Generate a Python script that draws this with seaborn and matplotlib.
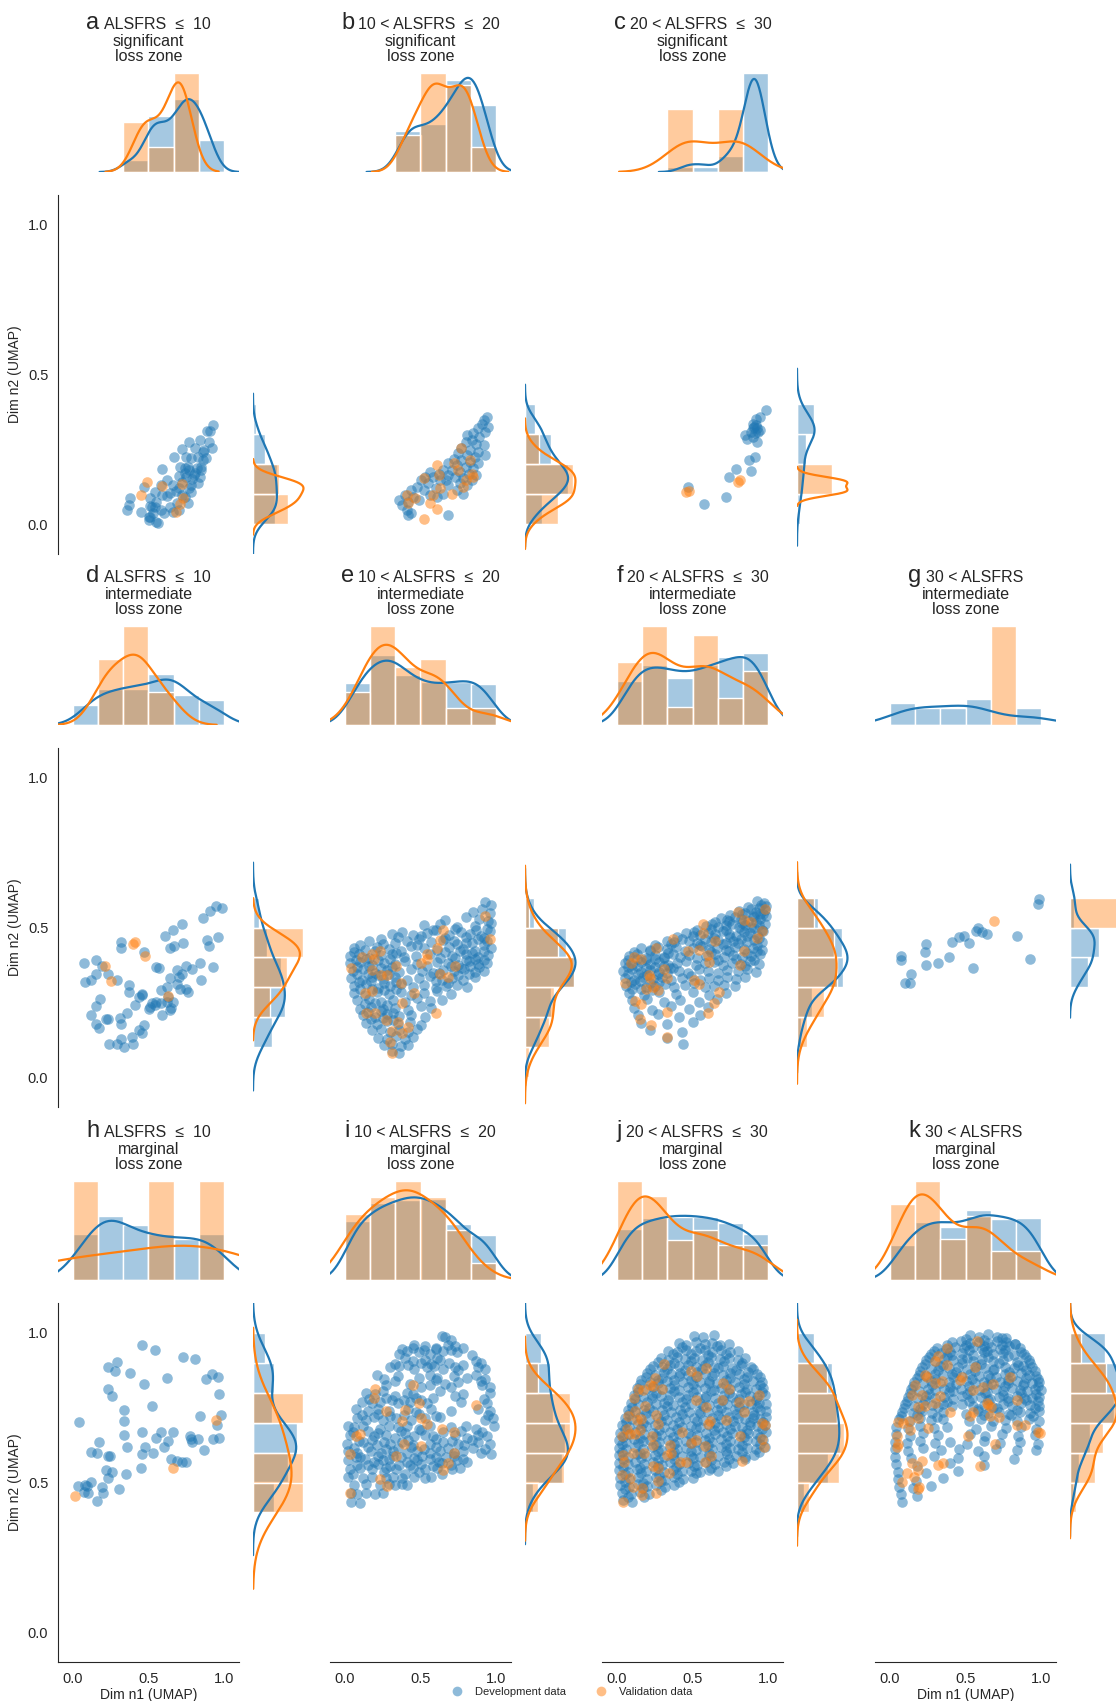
import matplotlib
matplotlib.use("Agg")
import matplotlib.pyplot as plt
import seaborn as sns
from matplotlib.lines import Line2D
from matplotlib.offsetbox import TextArea, HPacker, VPacker, AnchoredOffsetbox

# UMAP coordinates, one panel at a time
A_DEV_X = [0.93, 0.91, 0.89, 0.77, 0.84, 0.90, 0.72, 0.67, 0.81, 0.87, 0.92, 0.75, 0.78, 0.83, 0.86,
           0.71, 0.74, 0.77, 0.82, 0.85, 0.59, 0.80, 0.84, 0.75, 0.62, 0.58, 0.66, 0.70, 0.78, 0.83,
           0.47, 0.54, 0.64, 0.72, 0.78, 0.62, 0.38, 0.51, 0.55, 0.51, 0.37, 0.36, 0.52, 0.54, 0.58,
           0.45, 0.50, 0.51, 0.60, 0.64, 0.70, 0.76, 0.50, 0.56, 0.55, 0.69, 0.74, 0.66, 0.59, 0.53,
           0.76, 0.74, 0.79, 0.72, 0.70, 0.81, 0.77, 0.68, 0.86, 0.88, 0.85]
A_DEV_Y = [0.33, 0.31, 0.31, 0.275, 0.28, 0.275, 0.25, 0.225, 0.253, 0.247, 0.253, 0.225, 0.22, 0.225, 0.214,
           0.19, 0.186, 0.181, 0.186, 0.181, 0.184, 0.164, 0.158, 0.158, 0.147, 0.131, 0.131, 0.119, 0.131, 0.136,
           0.125, 0.108, 0.103, 0.097, 0.108, 0.094, 0.086, 0.086, 0.075, 0.06, 0.064, 0.047, 0.058, 0.058, 0.047,
           0.042, 0.025, 0.025, 0.036, 0.058, 0.047, 0.072, 0.014, 0.005, 0.008, 0.069, 0.092, 0.042, 0.097, 0.036,
           0.19, 0.17, 0.15, 0.14, 0.16, 0.17, 0.12, 0.11, 0.24, 0.22, 0.19]
A_VAL_X = [0.49, 0.45, 0.59, 0.72, 0.73, 0.71, 0.68]
A_VAL_Y = [0.141, 0.098, 0.128, 0.135, 0.086, 0.067, 0.041]

B_DEV_X = [0.94, 0.92, 0.905, 0.95, 0.88, 0.93, 0.85, 0.81, 0.89, 0.84, 0.80, 0.87, 0.92, 0.77, 0.83,
           0.88, 0.75, 0.81, 0.86, 0.93, 0.72, 0.77, 0.83, 0.88, 0.68, 0.74, 0.80, 0.85, 0.71, 0.76,
           0.82, 0.87, 0.65, 0.73, 0.78, 0.84, 0.67, 0.76, 0.81, 0.74, 0.78, 0.68, 0.63,
           0.56, 0.53, 0.585, 0.62, 0.50, 0.55, 0.475, 0.52, 0.60, 0.56, 0.44, 0.40, 0.36, 0.375, 0.42,
           0.45, 0.49, 0.41, 0.44, 0.42, 0.61, 0.65, 0.68, 0.68]
B_DEV_Y = [0.359, 0.347, 0.336, 0.325, 0.32, 0.308, 0.303, 0.297, 0.292, 0.281, 0.275, 0.269, 0.264, 0.253, 0.247,
           0.242, 0.236, 0.231, 0.225, 0.231, 0.219, 0.214, 0.208, 0.203, 0.203, 0.197, 0.192, 0.186, 0.18, 0.175,
           0.169, 0.164, 0.18, 0.158, 0.153, 0.147, 0.147, 0.136, 0.13, 0.114, 0.102, 0.13, 0.147,
           0.175, 0.158, 0.158, 0.169, 0.147, 0.136, 0.125, 0.114, 0.119, 0.097, 0.114, 0.097, 0.08, 0.063, 0.075,
           0.091, 0.08, 0.047, 0.036, 0.03, 0.091, 0.102, 0.164, 0.032]
B_VAL_X = [0.77, 0.72, 0.75, 0.83, 0.84, 0.85, 0.80, 0.78, 0.71, 0.63, 0.62, 0.61, 0.525, 0.585, 0.56,
           0.465, 0.41, 0.415, 0.52, 0.61]
B_VAL_Y = [0.253, 0.203, 0.18, 0.214, 0.169, 0.158, 0.147, 0.125, 0.102, 0.119, 0.164, 0.197, 0.153, 0.097, 0.069,
           0.086, 0.097, 0.069, 0.017, 0.049]

C_DEV_X = [0.99, 0.95, 0.92, 0.90, 0.91, 0.925, 0.945, 0.935, 0.915, 0.89, 0.90, 0.92, 0.85, 0.86, 0.90,
           0.93, 0.915, 0.875, 0.885, 0.79, 0.74, 0.47, 0.575, 0.725]
C_DEV_Y = [0.38, 0.359, 0.35, 0.336, 0.325, 0.32, 0.316, 0.308, 0.305, 0.308, 0.32, 0.331, 0.297, 0.283, 0.292,
           0.273, 0.223, 0.214, 0.177, 0.184, 0.159, 0.125, 0.067, 0.092]
C_VAL_X = [0.46, 0.475, 0.80, 0.815]
C_VAL_Y = [0.106, 0.112, 0.14, 0.146]

D_DEV_X = [0.95, 0.985, 0.91, 0.86, 0.72, 0.66, 0.61, 0.96, 0.89, 0.90, 0.73, 0.67, 0.64, 0.32, 0.32,
           0.47, 0.07, 0.15, 0.19, 0.15, 0.12, 0.08, 0.23, 0.29, 0.55, 0.57, 0.75, 0.79, 0.84, 0.93,
           0.69, 0.72, 0.64, 0.70, 0.85, 0.37, 0.37, 0.46, 0.46, 0.69, 0.75, 0.76, 0.71, 0.62, 0.58,
           0.41, 0.36, 0.31, 0.32, 0.18, 0.15, 0.12, 0.15, 0.17, 0.22, 0.23, 0.52, 0.50, 0.54, 0.58,
           0.62, 0.65, 0.64, 0.59, 0.47, 0.46, 0.44, 0.39, 0.24, 0.29, 0.34, 0.32, 0.40, 0.66, 0.63,
           0.55, 0.51, 0.44]
D_DEV_Y = [0.571, 0.566, 0.555, 0.533, 0.513, 0.493, 0.471, 0.469, 0.458, 0.439, 0.447, 0.438, 0.433, 0.452, 0.432,
           0.419, 0.383, 0.391, 0.371, 0.344, 0.324, 0.318, 0.346, 0.326, 0.369, 0.365, 0.372, 0.36, 0.38, 0.369,
           0.357, 0.346, 0.332, 0.335, 0.324, 0.307, 0.283, 0.277, 0.274, 0.311, 0.293, 0.285, 0.296, 0.302, 0.291,
           0.241, 0.215, 0.199, 0.177, 0.261, 0.238, 0.207, 0.179, 0.163, 0.193, 0.194, 0.248, 0.229, 0.241, 0.246,
           0.252, 0.232, 0.224, 0.207, 0.174, 0.148, 0.159, 0.135, 0.11, 0.11, 0.101, 0.126, 0.109, 0.252, 0.268,
           0.252, 0.235, 0.268]
D_VAL_X = [0.40, 0.41, 0.48, 0.21, 0.25, 0.63]
D_VAL_Y = [0.444, 0.45, 0.404, 0.371, 0.321, 0.271]

E_DEV_X = [0.93, 0.97, 0.85, 0.91, 0.96, 0.66, 0.80, 0.89, 0.95, 0.52, 0.63, 0.74, 0.86, 0.97,
           0.31, 0.38, 0.45, 0.54, 0.60, 0.69, 0.77, 0.83, 0.90, 0.96,
           0.16, 0.24, 0.33, 0.41, 0.49, 0.57, 0.65, 0.72, 0.80, 0.88, 0.94,
           0.06, 0.13, 0.21, 0.29, 0.37, 0.44, 0.52, 0.61, 0.69, 0.78, 0.86, 0.97,
           0.03, 0.09, 0.16, 0.24, 0.31, 0.39, 0.47, 0.56, 0.63, 0.71, 0.80, 0.88, 0.95,
           0.03, 0.10, 0.18, 0.26, 0.33, 0.40, 0.48, 0.54, 0.61, 0.68, 0.75, 0.82, 0.88, 0.94,
           0.05, 0.12, 0.20, 0.28, 0.36, 0.44, 0.51, 0.58, 0.65, 0.72, 0.79, 0.86, 0.92,
           0.04, 0.11, 0.18, 0.25, 0.33, 0.41, 0.49, 0.56, 0.64, 0.71, 0.78, 0.86,
           0.06, 0.14, 0.22, 0.30, 0.37, 0.45, 0.52, 0.60, 0.67, 0.74, 0.81,
           0.06, 0.13, 0.21, 0.29, 0.37, 0.44, 0.52, 0.61, 0.70,
           0.08, 0.16, 0.24, 0.32, 0.40, 0.48, 0.56, 0.64,
           0.10, 0.17, 0.25, 0.33, 0.42, 0.50, 0.57,
           0.12, 0.20, 0.28, 0.36, 0.44, 0.53,
           0.14, 0.21, 0.28, 0.35, 0.43, 0.50,
           0.18, 0.24, 0.30, 0.36, 0.42, 0.48,
           0.22, 0.28, 0.34, 0.40, 0.45,
           0.26, 0.31, 0.37, 0.42,
           0.31, 0.36,
           0.58, 0.73, 0.87, 0.94,
           0.35, 0.50, 0.66, 0.80, 0.92,
           0.10, 0.25, 0.48, 0.74, 0.84, 0.92,
           0.06, 0.20, 0.34, 0.66, 0.76, 0.84, 0.92,
           0.07, 0.14, 0.22, 0.30, 0.73, 0.80, 0.86, 0.92,
           0.08, 0.16, 0.24, 0.31, 0.70, 0.77, 0.83, 0.89,
           0.08, 0.15, 0.22, 0.29, 0.62, 0.75, 0.82,
           0.09, 0.17, 0.26, 0.34, 0.60, 0.68,
           0.10, 0.18, 0.26, 0.34,
           0.13, 0.20, 0.28,
           0.15, 0.24, 0.32,
           0.17, 0.25, 0.32]
E_DEV_Y = [0.586, 0.574, 0.553, 0.561, 0.548, 0.524, 0.536, 0.529, 0.521, 0.507, 0.512, 0.503, 0.506, 0.514,
           0.478, 0.486, 0.474, 0.482, 0.49, 0.476, 0.484, 0.479, 0.472, 0.487,
           0.456, 0.461, 0.449, 0.455, 0.463, 0.451, 0.459, 0.454, 0.447, 0.462, 0.456,
           0.431, 0.424, 0.436, 0.428, 0.423, 0.437, 0.43, 0.425, 0.434, 0.429, 0.422, 0.433,
           0.404, 0.411, 0.399, 0.407, 0.412, 0.401, 0.405, 0.41, 0.398, 0.406, 0.413, 0.4, 0.408,
           0.381, 0.386, 0.374, 0.383, 0.377, 0.388, 0.379, 0.372, 0.385, 0.38, 0.375, 0.387, 0.378, 0.383,
           0.354, 0.36, 0.349, 0.357, 0.351, 0.362, 0.355, 0.348, 0.359, 0.353, 0.361, 0.35, 0.356,
           0.331, 0.325, 0.336, 0.328, 0.334, 0.323, 0.332, 0.337, 0.326, 0.33, 0.324, 0.335,
           0.306, 0.31, 0.299, 0.304, 0.311, 0.301, 0.307, 0.298, 0.305, 0.309, 0.302,
           0.28, 0.275, 0.286, 0.278, 0.283, 0.274, 0.281, 0.287, 0.277,
           0.256, 0.261, 0.25, 0.258, 0.252, 0.263, 0.254, 0.259,
           0.229, 0.235, 0.226, 0.232, 0.224, 0.236, 0.23,
           0.206, 0.2, 0.211, 0.203, 0.208, 0.201,
           0.181, 0.176, 0.186, 0.178, 0.184, 0.175,
           0.156, 0.161, 0.15, 0.158, 0.152, 0.16,
           0.131, 0.126, 0.136, 0.128, 0.133,
           0.106, 0.11, 0.103, 0.108,
           0.087, 0.082,
           0.493, 0.496, 0.49, 0.494,
           0.468, 0.471, 0.465, 0.469, 0.466,
           0.443, 0.446, 0.44, 0.444, 0.447, 0.441,
           0.418, 0.421, 0.415, 0.419, 0.422, 0.416, 0.42,
           0.393, 0.396, 0.39, 0.394, 0.397, 0.391, 0.395, 0.392,
           0.368, 0.371, 0.365, 0.369, 0.372, 0.366, 0.37, 0.367,
           0.343, 0.346, 0.34, 0.344, 0.347, 0.341, 0.345,
           0.318, 0.321, 0.315, 0.319, 0.322, 0.316,
           0.293, 0.296, 0.29, 0.294,
           0.243, 0.246, 0.24,
           0.218, 0.221, 0.215,
           0.193, 0.196, 0.19]
E_VAL_X = [0.93, 0.65, 0.63, 0.96, 0.61, 0.54, 0.54, 0.50, 0.73, 0.63, 0.68, 0.11, 0.18, 0.23, 0.19,
           0.04, 0.18, 0.34, 0.28, 0.24, 0.37, 0.46, 0.13, 0.18, 0.14, 0.20, 0.27, 0.35, 0.42, 0.31,
           0.38, 0.30, 0.31, 0.60, 0.375]
E_VAL_Y = [0.538, 0.493, 0.458, 0.46, 0.43, 0.413, 0.396, 0.382, 0.371, 0.346, 0.333, 0.402, 0.413, 0.421, 0.396,
           0.363, 0.357, 0.371, 0.341, 0.341, 0.313, 0.282, 0.28, 0.288, 0.213, 0.215, 0.19, 0.185, 0.166, 0.153,
           0.148, 0.118, 0.081, 0.213, 0.246]

F_DEV_X = [0.93, 0.955, 0.975, 0.99, 0.81, 0.85, 0.89, 0.92, 0.95, 0.98,
           0.69, 0.73, 0.78, 0.82, 0.87, 0.91, 0.95, 0.99,
           0.59, 0.63, 0.67, 0.72, 0.76, 0.81, 0.85, 0.89, 0.94, 0.98,
           0.46, 0.51, 0.55, 0.60, 0.65, 0.70, 0.74, 0.79, 0.84, 0.88, 0.93, 0.97,
           0.33, 0.38, 0.43, 0.48, 0.53, 0.58, 0.62, 0.67, 0.72, 0.77, 0.82, 0.86, 0.91, 0.96,
           0.16, 0.22, 0.27, 0.33, 0.39, 0.45, 0.50, 0.56, 0.61, 0.66, 0.72, 0.78, 0.84, 0.90, 0.96,
           0.08, 0.13, 0.19, 0.25, 0.31, 0.37, 0.42, 0.48, 0.53, 0.59, 0.65, 0.71, 0.77, 0.83, 0.89, 0.95,
           0.05, 0.10, 0.16, 0.22, 0.28, 0.34, 0.40, 0.46, 0.52, 0.58, 0.64, 0.70, 0.76, 0.82, 0.88, 0.94,
           0.04, 0.10, 0.16, 0.22, 0.28, 0.35, 0.41, 0.47, 0.54, 0.60, 0.67, 0.73, 0.80, 0.86, 0.92,
           0.05, 0.11, 0.17, 0.24, 0.30, 0.36, 0.43, 0.49, 0.55, 0.61, 0.67, 0.73, 0.79, 0.85,
           0.06, 0.12, 0.19, 0.25, 0.32, 0.38, 0.45, 0.51, 0.58, 0.64, 0.71, 0.78,
           0.08, 0.18, 0.28, 0.39, 0.50, 0.61, 0.72,
           0.10, 0.20, 0.31, 0.42, 0.54, 0.66,
           0.11, 0.23, 0.36, 0.48, 0.60,
           0.14, 0.27, 0.41, 0.55,
           0.16, 0.33, 0.50,
           0.22, 0.43, 0.33, 0.44,
           0.87, 0.94,
           0.75, 0.83, 0.90, 0.97,
           0.65, 0.74, 0.83, 0.92,
           0.53, 0.62, 0.72, 0.82, 0.91, 0.96,
           0.40, 0.50, 0.64, 0.75, 0.86, 0.94,
           0.25, 0.36, 0.55, 0.70, 0.80, 0.93,
           0.11, 0.22, 0.34, 0.62, 0.74, 0.86, 0.93,
           0.07, 0.13, 0.19, 0.25, 0.31, 0.67, 0.79, 0.91,
           0.07, 0.13, 0.19, 0.25, 0.31, 0.37, 0.85,
           0.07, 0.14, 0.20, 0.27, 0.33,
           0.09, 0.15, 0.22, 0.28,
           0.10, 0.16, 0.23]
F_DEV_Y = [0.587, 0.576, 0.583, 0.572, 0.556, 0.549, 0.561, 0.553, 0.546, 0.558,
           0.531, 0.525, 0.536, 0.528, 0.522, 0.534, 0.527, 0.538,
           0.506, 0.511, 0.502, 0.508, 0.513, 0.503, 0.509, 0.501, 0.507, 0.512,
           0.48, 0.486, 0.475, 0.483, 0.477, 0.488, 0.479, 0.473, 0.485, 0.481, 0.476, 0.487,
           0.456, 0.451, 0.461, 0.454, 0.449, 0.46, 0.453, 0.458, 0.447, 0.455, 0.462, 0.45, 0.457, 0.452,
           0.431, 0.426, 0.436, 0.428, 0.434, 0.423, 0.432, 0.437, 0.427, 0.43, 0.424, 0.435, 0.429, 0.433, 0.425,
           0.404, 0.41, 0.399, 0.407, 0.401, 0.412, 0.403, 0.409, 0.398, 0.406, 0.411, 0.402, 0.408, 0.4, 0.405, 0.413,
           0.381, 0.375, 0.386, 0.378, 0.384, 0.373, 0.382, 0.388, 0.376, 0.38, 0.385, 0.374, 0.383, 0.377, 0.387, 0.379,
           0.356, 0.361, 0.35, 0.358, 0.352, 0.363, 0.354, 0.349, 0.36, 0.355, 0.348, 0.359, 0.353, 0.362, 0.351,
           0.331, 0.325, 0.336, 0.328, 0.334, 0.323, 0.332, 0.337, 0.326, 0.33, 0.324, 0.335, 0.329, 0.333,
           0.306, 0.311, 0.3, 0.304, 0.31, 0.302, 0.307, 0.313, 0.301, 0.305, 0.309, 0.303,
           0.281, 0.275, 0.286, 0.278, 0.284, 0.276, 0.282,
           0.256, 0.261, 0.25, 0.258, 0.252, 0.26,
           0.231, 0.225, 0.236, 0.228, 0.233,
           0.206, 0.211, 0.202, 0.208,
           0.181, 0.176, 0.185,
           0.156, 0.152, 0.131, 0.112,
           0.568, 0.565,
           0.543, 0.546, 0.54, 0.544,
           0.518, 0.521, 0.515, 0.519,
           0.493, 0.496, 0.49, 0.494, 0.497, 0.491,
           0.468, 0.471, 0.465, 0.469, 0.472, 0.466,
           0.443, 0.446, 0.44, 0.444, 0.447, 0.441,
           0.418, 0.421, 0.415, 0.419, 0.422, 0.416, 0.42,
           0.393, 0.396, 0.39, 0.394, 0.397, 0.391, 0.395, 0.392,
           0.368, 0.371, 0.365, 0.369, 0.372, 0.366, 0.37,
           0.343, 0.346, 0.34, 0.344, 0.347,
           0.318, 0.321, 0.315, 0.319,
           0.293, 0.296, 0.29]
F_VAL_X = [0.80, 0.98, 0.84, 0.89, 0.96, 0.925, 0.57, 0.65, 0.57, 0.545, 0.605, 0.61, 0.47, 0.37, 0.26,
           0.11, 0.16, 0.09, 0.05, 0.21, 0.22, 0.31, 0.33, 0.24, 0.19, 0.51, 0.545, 0.84, 0.815, 0.675,
           0.645, 0.605, 0.12, 0.16, 0.15, 0.225, 0.33, 0.33, 0.27]
F_VAL_Y = [0.552, 0.561, 0.524, 0.519, 0.489, 0.465, 0.511, 0.454, 0.48, 0.424, 0.408, 0.385, 0.421, 0.461, 0.432,
           0.40, 0.396, 0.38, 0.313, 0.341, 0.33, 0.36, 0.33, 0.302, 0.296, 0.326, 0.311, 0.421, 0.374, 0.283,
           0.246, 0.215, 0.254, 0.243, 0.194, 0.174, 0.218, 0.135, 0.291]

G_DEV_X = [0.99, 0.98, 0.84, 0.93, 0.64, 0.585, 0.57, 0.61, 0.49, 0.46, 0.52, 0.41, 0.24, 0.23, 0.07,
           0.07, 0.39, 0.32, 0.24, 0.55, 0.14, 0.10, 0.135]
G_DEV_Y = [0.594, 0.578, 0.472, 0.394, 0.478, 0.499, 0.489, 0.486, 0.472, 0.467, 0.447, 0.45, 0.444, 0.418, 0.405,
           0.391, 0.401, 0.381, 0.375, 0.363, 0.344, 0.315, 0.315]
G_VAL_X = [0.69]
G_VAL_Y = [0.521]

H_DEV_X = [0.46, 0.54, 0.73, 0.81, 0.29, 0.23, 0.28, 0.38, 0.62, 0.47, 0.88, 0.92, 0.96, 0.23, 0.26,
           0.965, 0.04, 0.34, 0.52, 0.34, 0.84, 0.98, 0.955, 0.34, 0.455, 0.58, 0.66, 0.55, 0.63, 0.775,
           0.78, 0.83, 0.79, 0.93, 0.97, 0.17, 0.12, 0.16, 0.36, 0.48, 0.60, 0.46, 0.53, 0.87, 0.23,
           0.245, 0.65, 0.69, 0.72, 0.75, 0.22, 0.26, 0.23, 0.45, 0.35, 0.03, 0.08, 0.095, 0.12, 0.19,
           0.07, 0.10, 0.20, 0.305, 0.16]
H_DEV_Y = [0.958, 0.943, 0.919, 0.914, 0.904, 0.885, 0.873, 0.865, 0.85, 0.829, 0.847, 0.862, 0.853, 0.813, 0.79,
           0.797, 0.703, 0.744, 0.756, 0.706, 0.722, 0.724, 0.693, 0.658, 0.668, 0.67, 0.669, 0.65, 0.638, 0.656,
           0.646, 0.647, 0.636, 0.644, 0.648, 0.637, 0.602, 0.599, 0.617, 0.618, 0.617, 0.596, 0.6, 0.608, 0.588,
           0.588, 0.577, 0.572, 0.569, 0.568, 0.541, 0.536, 0.514, 0.549, 0.527, 0.488, 0.493, 0.488, 0.503, 0.486,
           0.468, 0.465, 0.464, 0.478, 0.439]
H_VAL_X = [0.01, 0.66, 0.95]
H_VAL_Y = [0.454, 0.548, 0.708]

I_DEV_X = [0.64, 0.66, 0.70, 0.46, 0.53, 0.60, 0.68, 0.73, 0.78,
           0.36, 0.41, 0.49, 0.56, 0.65, 0.74, 0.84, 0.40, 0.45, 0.53, 0.61, 0.63, 0.87,
           0.30, 0.36, 0.46, 0.54, 0.59, 0.65, 0.73, 0.75, 0.88, 0.93,
           0.21, 0.26, 0.35, 0.49, 0.56, 0.61, 0.72, 0.81, 0.87, 0.93,
           0.27, 0.43, 0.50, 0.56, 0.66, 0.70, 0.91, 0.96,
           0.14, 0.20, 0.25, 0.33, 0.41, 0.45, 0.63, 0.73, 0.78, 0.96,
           0.11, 0.18, 0.23, 0.31, 0.35, 0.43, 0.50, 0.54, 0.77, 0.94,
           0.07, 0.15, 0.22, 0.29, 0.42, 0.47, 0.57, 0.70, 0.88, 0.96,
           0.08, 0.14, 0.19, 0.25, 0.34, 0.44, 0.53, 0.63, 0.93, 0.98,
           0.02, 0.06, 0.12, 0.23, 0.29, 0.35, 0.41, 0.49, 0.56, 0.70, 0.80, 0.87, 0.99,
           0.03, 0.19, 0.27, 0.33, 0.40, 0.46, 0.53, 0.58, 0.73, 0.81, 0.88, 0.94,
           0.01, 0.12, 0.21, 0.30, 0.38, 0.45, 0.56, 0.65, 0.75, 0.79, 0.88, 0.96,
           0.02, 0.08, 0.17, 0.24, 0.32, 0.41, 0.48, 0.56, 0.63, 0.72, 0.78, 0.90, 0.97,
           0.02, 0.13, 0.19, 0.25, 0.29, 0.41, 0.48, 0.56, 0.62, 0.74, 0.78, 0.81,
           0.03, 0.10, 0.18, 0.27, 0.34, 0.45, 0.53, 0.61, 0.71, 0.76,
           0.02, 0.12, 0.18, 0.27, 0.32, 0.38, 0.46, 0.53, 0.57,
           0.06, 0.14, 0.23, 0.29, 0.33, 0.38, 0.41,
           0.04, 0.08, 0.14, 0.20, 0.25, 0.04, 0.10,
           0.07, 0.22, 0.37, 0.51, 0.67, 0.15, 0.30, 0.43, 0.58, 0.70, 0.05, 0.26, 0.40, 0.49, 0.64,
           0.38, 0.45, 0.52, 0.60, 0.70,
           0.33, 0.42, 0.50, 0.57, 0.69, 0.78, 0.90,
           0.33, 0.60, 0.75, 0.90,
           0.16, 0.27, 0.39, 0.47, 0.58, 0.92,
           0.11, 0.22, 0.30, 0.39, 0.49, 0.60, 0.95,
           0.05, 0.15, 0.22, 0.37, 0.50, 0.65, 0.77, 0.91,
           0.09, 0.18, 0.26, 0.42, 0.60, 0.71, 0.84,
           0.06, 0.15, 0.27, 0.35, 0.44, 0.52, 0.60, 0.68, 0.85, 0.93,
           0.10, 0.32, 0.46, 0.60, 0.72,
           0.08, 0.22, 0.36, 0.50, 0.64]
I_DEV_Y = [0.99, 0.985, 0.975, 0.96, 0.955, 0.95, 0.96, 0.955, 0.95,
           0.93, 0.94, 0.935, 0.93, 0.94, 0.935, 0.925, 0.915, 0.905, 0.91, 0.915, 0.91, 0.905,
           0.885, 0.89, 0.88, 0.885, 0.89, 0.88, 0.885, 0.875, 0.885, 0.88,
           0.86, 0.845, 0.855, 0.85, 0.86, 0.85, 0.855, 0.85, 0.86, 0.845,
           0.825, 0.83, 0.82, 0.825, 0.83, 0.82, 0.825, 0.82,
           0.80, 0.795, 0.805, 0.79, 0.80, 0.795, 0.805, 0.79, 0.795, 0.80,
           0.77, 0.765, 0.77, 0.775, 0.765, 0.77, 0.775, 0.765, 0.77, 0.765,
           0.745, 0.74, 0.745, 0.74, 0.745, 0.735, 0.745, 0.74, 0.745, 0.74,
           0.715, 0.71, 0.72, 0.71, 0.715, 0.708, 0.715, 0.72, 0.71, 0.715,
           0.69, 0.685, 0.69, 0.68, 0.69, 0.685, 0.69, 0.68, 0.69, 0.685, 0.69, 0.68, 0.69,
           0.66, 0.655, 0.66, 0.65, 0.665, 0.655, 0.66, 0.655, 0.66, 0.65, 0.66, 0.655,
           0.63, 0.635, 0.625, 0.63, 0.635, 0.625, 0.63, 0.635, 0.63, 0.625, 0.635, 0.63,
           0.605, 0.60, 0.605, 0.60, 0.605, 0.60, 0.605, 0.60, 0.605, 0.60, 0.605, 0.60, 0.595,
           0.575, 0.58, 0.57, 0.575, 0.58, 0.57, 0.575, 0.58, 0.57, 0.575, 0.58, 0.57,
           0.545, 0.55, 0.545, 0.55, 0.545, 0.55, 0.545, 0.55, 0.545, 0.55,
           0.52, 0.515, 0.52, 0.515, 0.52, 0.515, 0.52, 0.515, 0.52,
           0.49, 0.495, 0.49, 0.495, 0.49, 0.495, 0.49,
           0.465, 0.46, 0.465, 0.46, 0.465, 0.435, 0.43,
           0.585, 0.59, 0.585, 0.59, 0.585, 0.56, 0.555, 0.56, 0.555, 0.56, 0.53, 0.535, 0.53, 0.535, 0.53,
           0.945, 0.948, 0.942, 0.946, 0.943,
           0.897, 0.894, 0.9, 0.896, 0.899, 0.893, 0.898,
           0.838, 0.841, 0.835, 0.839,
           0.78, 0.783, 0.777, 0.781, 0.784, 0.778,
           0.725, 0.728, 0.722, 0.726, 0.729, 0.723, 0.727,
           0.67, 0.673, 0.667, 0.671, 0.674, 0.668, 0.672, 0.669,
           0.64, 0.643, 0.637, 0.641, 0.644, 0.638, 0.642,
           0.615, 0.618, 0.612, 0.616, 0.619, 0.613, 0.617, 0.614, 0.616, 0.612,
           0.585, 0.588, 0.582, 0.586, 0.589,
           0.56, 0.563, 0.557, 0.561, 0.564]
I_VAL_X = [0.20, 0.19, 0.27, 0.45, 0.40, 0.38, 0.49, 0.50, 0.545, 0.64, 0.72, 0.87, 0.10, 0.07, 0.39,
           0.50, 0.34, 0.72, 0.68, 0.65, 0.03, 0.23, 0.28, 0.03]
I_VAL_Y = [0.812, 0.784, 0.74, 0.827, 0.743, 0.706, 0.765, 0.715, 0.695, 0.679, 0.67, 0.76, 0.663, 0.654, 0.628,
           0.621, 0.589, 0.598, 0.566, 0.542, 0.594, 0.512, 0.488, 0.466]

J_DEV_X = [0.51, 0.57, 0.64,
           0.41, 0.46, 0.52, 0.58, 0.63, 0.68, 0.74,
           0.34, 0.40, 0.46, 0.52, 0.58, 0.63, 0.69, 0.75, 0.80,
           0.29, 0.34, 0.40, 0.45, 0.51, 0.56, 0.62, 0.68, 0.74, 0.80, 0.85,
           0.24, 0.30, 0.35, 0.41, 0.47, 0.52, 0.58, 0.64, 0.70, 0.76, 0.82, 0.89,
           0.20, 0.25, 0.31, 0.36, 0.42, 0.47, 0.53, 0.58, 0.64, 0.70, 0.75, 0.81, 0.87, 0.93,
           0.16, 0.22, 0.27, 0.33, 0.38, 0.44, 0.49, 0.55, 0.61, 0.66, 0.72, 0.78, 0.84, 0.90, 0.96,
           0.13, 0.19, 0.24, 0.30, 0.35, 0.41, 0.47, 0.52, 0.58, 0.64, 0.69, 0.75, 0.81, 0.86, 0.92, 0.97,
           0.11, 0.17, 0.23, 0.29, 0.35, 0.41, 0.47, 0.53, 0.59, 0.65, 0.71, 0.76, 0.82, 0.88, 0.93, 0.98,
           0.09, 0.14, 0.20, 0.26, 0.31, 0.37, 0.43, 0.49, 0.55, 0.61, 0.67, 0.73, 0.79, 0.84, 0.89, 0.94, 0.99,
           0.07, 0.12, 0.18, 0.24, 0.30, 0.36, 0.42, 0.48, 0.54, 0.60, 0.66, 0.72, 0.78, 0.84, 0.90, 0.95, 0.99,
           0.05, 0.10, 0.15, 0.21, 0.27, 0.33, 0.39, 0.45, 0.51, 0.57, 0.63, 0.69, 0.74, 0.80, 0.85, 0.90, 0.95, 0.99,
           0.03, 0.08, 0.14, 0.19, 0.25, 0.31, 0.37, 0.43, 0.49, 0.55, 0.61, 0.67, 0.72, 0.78, 0.83, 0.88, 0.93, 0.98,
           0.02, 0.07, 0.12, 0.18, 0.24, 0.29, 0.35, 0.41, 0.47, 0.53, 0.59, 0.65, 0.70, 0.76, 0.82, 0.87, 0.93, 0.99,
           0.01, 0.06, 0.11, 0.17, 0.22, 0.28, 0.34, 0.40, 0.46, 0.52, 0.58, 0.63, 0.69, 0.75, 0.81, 0.86, 0.92, 0.97,
           0.01, 0.06, 0.12, 0.17, 0.23, 0.29, 0.35, 0.40, 0.46, 0.52, 0.57, 0.63, 0.69, 0.75, 0.80, 0.86, 0.92, 0.98,
           0.01, 0.07, 0.13, 0.19, 0.25, 0.31, 0.37, 0.43, 0.49, 0.55, 0.61, 0.67, 0.73, 0.79, 0.85, 0.91,
           0.01, 0.07, 0.12, 0.18, 0.24, 0.30, 0.35, 0.41, 0.47, 0.53, 0.59, 0.65, 0.71, 0.77,
           0.01, 0.07, 0.13, 0.19, 0.25, 0.31, 0.37, 0.43, 0.49, 0.55, 0.61, 0.67,
           0.02, 0.08, 0.14, 0.20, 0.26, 0.32, 0.38, 0.44, 0.50,
           0.02, 0.08, 0.14, 0.20, 0.26, 0.32, 0.38,
           0.03, 0.09, 0.15, 0.21, 0.04, 0.10,
           0.43, 0.55, 0.66,
           0.37, 0.49, 0.60, 0.72,
           0.27, 0.38, 0.49, 0.60, 0.71, 0.83,
           0.22, 0.33, 0.45, 0.56, 0.67, 0.79, 0.90,
           0.19, 0.30, 0.41, 0.52, 0.63, 0.75, 0.86, 0.95,
           0.15, 0.27, 0.38, 0.50, 0.61, 0.72, 0.84, 0.95,
           0.14, 0.26, 0.38, 0.50, 0.62, 0.74, 0.85, 0.96,
           0.12, 0.23, 0.34, 0.46, 0.58, 0.70, 0.81, 0.92,
           0.10, 0.21, 0.33, 0.45, 0.57, 0.69, 0.81, 0.93,
           0.08, 0.19, 0.31, 0.43, 0.55, 0.67, 0.79, 0.91,
           0.06, 0.17, 0.29, 0.41, 0.53, 0.65, 0.77, 0.88, 0.97,
           0.05, 0.16, 0.28, 0.40, 0.52, 0.64, 0.75, 0.86, 0.96,
           0.04, 0.15, 0.26, 0.37, 0.49, 0.61, 0.73, 0.84, 0.95,
           0.03, 0.14, 0.26, 0.38, 0.49, 0.60, 0.72, 0.83, 0.95,
           0.03, 0.15, 0.27, 0.38, 0.49, 0.61, 0.72, 0.83, 0.94,
           0.04, 0.16, 0.27, 0.38, 0.50, 0.62, 0.74, 0.85,
           0.04, 0.15, 0.27, 0.39, 0.51, 0.62, 0.72,
           0.05, 0.16, 0.28, 0.40, 0.52,
           0.05, 0.17, 0.29, 0.41,
           0.05, 0.17, 0.29,
           0.07, 0.18]
J_DEV_Y = [0.991, 0.986, 0.993,
           0.966, 0.961, 0.969, 0.963, 0.967, 0.96, 0.964,
           0.941, 0.936, 0.944, 0.938, 0.942, 0.935, 0.943, 0.937, 0.94,
           0.916, 0.911, 0.919, 0.913, 0.917, 0.91, 0.918, 0.912, 0.915, 0.909, 0.917,
           0.891, 0.886, 0.894, 0.888, 0.892, 0.885, 0.893, 0.887, 0.89, 0.884, 0.892, 0.887,
           0.866, 0.861, 0.869, 0.863, 0.867, 0.86, 0.868, 0.862, 0.865, 0.859, 0.867, 0.862, 0.87, 0.864,
           0.841, 0.836, 0.844, 0.838, 0.842, 0.835, 0.843, 0.837, 0.84, 0.834, 0.842, 0.837, 0.845, 0.839, 0.836,
           0.816, 0.811, 0.819, 0.813, 0.817, 0.81, 0.818, 0.812, 0.815, 0.809, 0.817, 0.812, 0.82, 0.814, 0.811, 0.816,
           0.791, 0.786, 0.794, 0.788, 0.792, 0.785, 0.793, 0.787, 0.79, 0.784, 0.792, 0.787, 0.795, 0.789, 0.786, 0.791,
           0.766, 0.761, 0.769, 0.763, 0.767, 0.76, 0.768, 0.762, 0.765, 0.759, 0.767, 0.762, 0.77, 0.764, 0.761, 0.766, 0.763,
           0.741, 0.736, 0.744, 0.738, 0.742, 0.735, 0.743, 0.737, 0.74, 0.734, 0.742, 0.737, 0.745, 0.739, 0.736, 0.741, 0.738,
           0.716, 0.711, 0.719, 0.713, 0.717, 0.71, 0.718, 0.712, 0.715, 0.709, 0.717, 0.712, 0.72, 0.714, 0.711, 0.716, 0.713, 0.718,
           0.691, 0.686, 0.694, 0.688, 0.692, 0.685, 0.693, 0.687, 0.69, 0.684, 0.692, 0.687, 0.695, 0.689, 0.686, 0.691, 0.688, 0.693,
           0.666, 0.661, 0.669, 0.663, 0.667, 0.66, 0.668, 0.662, 0.665, 0.659, 0.667, 0.662, 0.67, 0.664, 0.661, 0.666, 0.663, 0.668,
           0.641, 0.636, 0.644, 0.638, 0.642, 0.635, 0.643, 0.637, 0.64, 0.634, 0.642, 0.637, 0.645, 0.639, 0.636, 0.641, 0.638, 0.643,
           0.616, 0.611, 0.619, 0.613, 0.617, 0.61, 0.618, 0.612, 0.615, 0.609, 0.617, 0.612, 0.62, 0.614, 0.611, 0.616, 0.613, 0.618,
           0.591, 0.586, 0.594, 0.588, 0.592, 0.585, 0.593, 0.587, 0.59, 0.584, 0.592, 0.587, 0.595, 0.589, 0.586, 0.591,
           0.566, 0.561, 0.569, 0.563, 0.567, 0.56, 0.568, 0.562, 0.565, 0.559, 0.567, 0.562, 0.57, 0.564,
           0.541, 0.536, 0.544, 0.538, 0.542, 0.535, 0.543, 0.537, 0.54, 0.534, 0.542, 0.537,
           0.516, 0.511, 0.519, 0.513, 0.517, 0.51, 0.518, 0.512, 0.515,
           0.491, 0.486, 0.494, 0.488, 0.492, 0.485, 0.493,
           0.466, 0.461, 0.469, 0.463, 0.441, 0.436,
           0.953, 0.95, 0.956,
           0.928, 0.931, 0.925, 0.929,
           0.903, 0.9, 0.906, 0.902, 0.905, 0.899,
           0.878, 0.881, 0.875, 0.879, 0.882, 0.876, 0.878,
           0.853, 0.85, 0.856, 0.852, 0.855, 0.849, 0.854, 0.851,
           0.828, 0.831, 0.825, 0.829, 0.832, 0.826, 0.83, 0.827,
           0.803, 0.8, 0.806, 0.802, 0.805, 0.799, 0.804, 0.801,
           0.778, 0.781, 0.775, 0.779, 0.782, 0.776, 0.78, 0.777,
           0.753, 0.75, 0.756, 0.752, 0.755, 0.749, 0.754, 0.751,
           0.728, 0.731, 0.725, 0.729, 0.732, 0.726, 0.73, 0.727,
           0.703, 0.7, 0.706, 0.702, 0.705, 0.699, 0.704, 0.701, 0.703,
           0.678, 0.681, 0.675, 0.679, 0.682, 0.676, 0.68, 0.677, 0.678,
           0.653, 0.65, 0.656, 0.652, 0.655, 0.649, 0.654, 0.651, 0.653,
           0.628, 0.631, 0.625, 0.629, 0.632, 0.626, 0.63, 0.627, 0.628,
           0.603, 0.6, 0.606, 0.602, 0.605, 0.599, 0.604, 0.601, 0.603,
           0.578, 0.581, 0.575, 0.579, 0.582, 0.576, 0.58, 0.577,
           0.553, 0.55, 0.556, 0.552, 0.555, 0.549, 0.554,
           0.528, 0.531, 0.525, 0.529, 0.532,
           0.503, 0.5, 0.506, 0.502,
           0.478, 0.481, 0.475,
           0.453, 0.45]
J_VAL_X = [0.31, 0.49, 0.53, 0.59, 0.25, 0.22, 0.17, 0.14, 0.115, 0.30, 0.24, 0.12, 0.185, 0.075, 0.135,
           0.16, 0.26, 0.27, 0.064, 0.086, 0.15, 0.23, 0.24, 0.35, 0.36, 0.33, 0.43, 0.49, 0.52, 0.42,
           0.46, 0.58, 0.58, 0.62, 0.52, 0.59, 0.695, 0.70, 0.74, 0.72, 0.605, 0.616, 0.81, 0.84, 0.875,
           0.94, 0.96, 0.98, 0.96, 0.975, 0.815, 0.826, 0.038, 0.108, 0.046, 0.181, 0.241, 0.274, 0.347,
           0.031, 0.086, 0.108, 0.163, 0.163, 0.042, 0.274, 0.258, 0.119, 0.031]
J_VAL_Y = [0.897, 0.872, 0.855, 0.883, 0.849, 0.827, 0.81, 0.812, 0.782, 0.812, 0.821, 0.74, 0.756, 0.723, 0.709,
           0.712, 0.726, 0.696, 0.678, 0.661, 0.676, 0.657, 0.626, 0.626, 0.598, 0.592, 0.67, 0.631, 0.642, 0.57,
           0.57, 0.622, 0.57, 0.59, 0.777, 0.752, 0.777, 0.832, 0.813, 0.709, 0.695, 0.704, 0.768, 0.737, 0.773,
           0.793, 0.698, 0.693, 0.645, 0.62, 0.657, 0.573, 0.592, 0.6, 0.57, 0.598, 0.556, 0.547, 0.533,
           0.525, 0.514, 0.486, 0.48, 0.458, 0.436, 0.505, 0.466, 0.661, 0.657]

K_DEV_X = [0.53, 0.59, 0.65, 0.71, 0.77,
           0.41, 0.47, 0.53, 0.59, 0.65, 0.71, 0.77, 0.83,
           0.31, 0.37, 0.43, 0.49, 0.55, 0.61, 0.67, 0.73, 0.79, 0.86,
           0.27, 0.34, 0.41, 0.48, 0.55, 0.62, 0.68, 0.75, 0.82, 0.89,
           0.24, 0.30, 0.36, 0.42, 0.48, 0.55, 0.61, 0.68, 0.75, 0.84, 0.92,
           0.21, 0.27, 0.33, 0.39, 0.45, 0.51, 0.57, 0.63, 0.69, 0.76, 0.82, 0.88, 0.94,
           0.19, 0.24, 0.30, 0.35, 0.41, 0.47, 0.53, 0.59, 0.65, 0.70, 0.76, 0.81, 0.87, 0.92, 0.97,
           0.16, 0.22, 0.27, 0.33, 0.39, 0.44, 0.50, 0.56, 0.62, 0.67, 0.73, 0.78, 0.84, 0.89, 0.94, 0.99,
           0.14, 0.19, 0.25, 0.30, 0.36, 0.42, 0.47, 0.53, 0.59, 0.64, 0.70, 0.75, 0.81, 0.86, 0.91, 0.96, 1.00,
           0.12, 0.18, 0.24, 0.30, 0.36, 0.42, 0.48, 0.54, 0.60, 0.66, 0.72, 0.78, 0.84, 0.89, 0.94, 0.99,
           0.10, 0.16, 0.22, 0.28, 0.35, 0.41, 0.48, 0.55, 0.62, 0.68, 0.75, 0.81, 0.87, 0.93, 0.99,
           0.08, 0.15, 0.21, 0.28, 0.35, 0.50, 0.58, 0.65, 0.72, 0.79, 0.86, 0.93, 0.99,
           0.06, 0.13, 0.20, 0.27, 0.35, 0.52, 0.60, 0.68, 0.76, 0.84, 0.92, 0.99,
           0.04, 0.12, 0.20, 0.29, 0.38, 0.57, 0.67, 0.77, 0.87, 0.97,
           0.04, 0.13, 0.22, 0.32, 0.53, 0.63, 0.74, 0.85, 0.96,
           0.03, 0.11, 0.20, 0.30, 0.40, 0.51, 0.62, 0.73, 0.86, 0.98,
           0.03, 0.12, 0.22, 0.34, 0.46, 0.58, 0.70, 0.84, 0.97,
           0.03, 0.14, 0.29, 0.45, 0.62, 0.82,
           0.04, 0.18, 0.40, 0.62, 0.05, 0.24, 0.45, 0.05, 0.17, 0.35,
           0.06, 0.15, 0.27, 0.07, 0.18, 0.08,
           0.50, 0.62, 0.74,
           0.38, 0.50, 0.62, 0.74, 0.83,
           0.29, 0.40, 0.52, 0.64, 0.76, 0.87,
           0.26, 0.38, 0.51, 0.65, 0.78, 0.90,
           0.23, 0.35, 0.48, 0.60, 0.72, 0.85, 0.93,
           0.20, 0.32, 0.44, 0.56, 0.68, 0.79, 0.90, 0.96,
           0.18, 0.30, 0.42, 0.54, 0.66, 0.78, 0.90, 0.98,
           0.15, 0.28, 0.40, 0.52, 0.64, 0.76, 0.88, 0.98,
           0.13, 0.26, 0.39, 0.51, 0.63, 0.75, 0.87, 0.97,
           0.11, 0.23, 0.38, 0.52, 0.65, 0.78, 0.90, 0.98,
           0.09, 0.20, 0.32, 0.58, 0.71, 0.84, 0.96,
           0.07, 0.18, 0.31, 0.62, 0.80, 0.95]
K_DEV_Y = [0.992, 0.985, 0.995, 0.988, 0.983,
           0.968, 0.973, 0.965, 0.971, 0.966, 0.974, 0.969, 0.964,
           0.951, 0.946, 0.954, 0.948, 0.953, 0.945, 0.952, 0.947, 0.955, 0.949,
           0.929, 0.934, 0.926, 0.932, 0.927, 0.935, 0.928, 0.933, 0.925, 0.931,
           0.911, 0.906, 0.914, 0.908, 0.912, 0.905, 0.913, 0.907, 0.91, 0.904, 0.909,
           0.886, 0.881, 0.889, 0.883, 0.887, 0.88, 0.888, 0.884, 0.879, 0.886, 0.882, 0.89, 0.885,
           0.861, 0.856, 0.864, 0.858, 0.862, 0.855, 0.863, 0.857, 0.86, 0.854, 0.862, 0.857, 0.865, 0.859, 0.856,
           0.836, 0.831, 0.839, 0.833, 0.837, 0.83, 0.838, 0.832, 0.835, 0.829, 0.837, 0.832, 0.84, 0.834, 0.831, 0.836,
           0.811, 0.806, 0.814, 0.808, 0.812, 0.805, 0.813, 0.807, 0.81, 0.804, 0.812, 0.807, 0.815, 0.809, 0.806, 0.811, 0.808,
           0.786, 0.781, 0.789, 0.783, 0.787, 0.78, 0.788, 0.782, 0.785, 0.779, 0.787, 0.782, 0.79, 0.784, 0.781, 0.786,
           0.761, 0.756, 0.764, 0.758, 0.762, 0.755, 0.763, 0.757, 0.76, 0.754, 0.762, 0.757, 0.765, 0.759, 0.756,
           0.736, 0.731, 0.739, 0.733, 0.737, 0.73, 0.738, 0.732, 0.735, 0.729, 0.737, 0.732, 0.74,
           0.711, 0.706, 0.714, 0.708, 0.712, 0.705, 0.713, 0.707, 0.71, 0.704, 0.712, 0.707,
           0.686, 0.681, 0.689, 0.683, 0.687, 0.68, 0.688, 0.682, 0.685, 0.679,
           0.661, 0.656, 0.664, 0.658, 0.662, 0.655, 0.663, 0.657, 0.66,
           0.636, 0.631, 0.639, 0.633, 0.637, 0.63, 0.638, 0.632, 0.635, 0.629,
           0.611, 0.606, 0.614, 0.608, 0.612, 0.605, 0.613, 0.607, 0.61,
           0.586, 0.581, 0.589, 0.583, 0.587, 0.58,
           0.561, 0.556, 0.564, 0.558, 0.536, 0.531, 0.539, 0.511, 0.506, 0.514,
           0.486, 0.481, 0.489, 0.461, 0.456, 0.436,
           0.98, 0.977, 0.982,
           0.958, 0.961, 0.955, 0.959, 0.962,
           0.94, 0.937, 0.943, 0.939, 0.942, 0.936,
           0.92, 0.923, 0.917, 0.921, 0.924, 0.918,
           0.897, 0.894, 0.9, 0.896, 0.899, 0.893, 0.898,
           0.873, 0.876, 0.87, 0.874, 0.877, 0.871, 0.875, 0.872,
           0.848, 0.845, 0.851, 0.847, 0.85, 0.844, 0.849, 0.846,
           0.823, 0.826, 0.82, 0.824, 0.827, 0.821, 0.825, 0.822,
           0.798, 0.795, 0.801, 0.797, 0.8, 0.794, 0.799, 0.796,
           0.773, 0.776, 0.77, 0.774, 0.777, 0.771, 0.775, 0.772,
           0.748, 0.745, 0.751, 0.747, 0.75, 0.744, 0.749,
           0.723, 0.726, 0.72, 0.724, 0.727, 0.721]
K_VAL_X = [0.375, 0.32, 0.30, 0.375, 0.574, 0.563, 0.232, 0.243, 0.342, 0.298, 0.166, 0.143, 0.21, 0.331, 0.298,
           0.188, 0.232, 0.464, 0.475, 0.552, 0.618, 0.684, 0.795, 0.64, 0.651, 0.667, 0.839, 0.397, 0.552, 0.53,
           0.662, 0.724, 0.839, 0.894, 0.993, 0.982, 0.055, 0.088, 0.128, 0.188, 0.254, 0.044, 0.044, 0.055, 0.132,
           0.519, 0.695, 0.21, 0.143, 0.188, 0.11, 0.159, 0.077, 0.194, 0.188, 0.349, 0.32, 0.596]
K_VAL_Y = [0.95, 0.922, 0.905, 0.894, 0.972, 0.886, 0.86, 0.853, 0.838, 0.832, 0.827, 0.793, 0.793, 0.788, 0.765,
           0.754, 0.756, 0.844, 0.853, 0.81, 0.819, 0.83, 0.853, 0.765, 0.76, 0.754, 0.777, 0.737, 0.737, 0.721,
           0.723, 0.718, 0.693, 0.693, 0.667, 0.67, 0.701, 0.698, 0.704, 0.715, 0.682, 0.654, 0.62, 0.629, 0.676,
           0.657, 0.629, 0.573, 0.564, 0.542, 0.533, 0.52, 0.503, 0.486, 0.478, 0.564, 0.559, 0.555]

LE = "  \u2264  "
PANELS = [
    # letter, ALSFRS range, zone, row, col, development x/y, validation x/y
    ("a", "ALSFRS" + LE + "10", "significant", 0, 0, A_DEV_X, A_DEV_Y, A_VAL_X, A_VAL_Y),
    ("b", "10 < ALSFRS" + LE + "20", "significant", 0, 1, B_DEV_X, B_DEV_Y, B_VAL_X, B_VAL_Y),
    ("c", "20 < ALSFRS" + LE + "30", "significant", 0, 2, C_DEV_X, C_DEV_Y, C_VAL_X, C_VAL_Y),
    ("d", "ALSFRS" + LE + "10", "intermediate", 1, 0, D_DEV_X, D_DEV_Y, D_VAL_X, D_VAL_Y),
    ("e", "10 < ALSFRS" + LE + "20", "intermediate", 1, 1, E_DEV_X, E_DEV_Y, E_VAL_X, E_VAL_Y),
    ("f", "20 < ALSFRS" + LE + "30", "intermediate", 1, 2, F_DEV_X, F_DEV_Y, F_VAL_X, F_VAL_Y),
    ("g", "30 < ALSFRS", "intermediate", 1, 3, G_DEV_X, G_DEV_Y, G_VAL_X, G_VAL_Y),
    ("h", "ALSFRS" + LE + "10", "marginal", 2, 0, H_DEV_X, H_DEV_Y, H_VAL_X, H_VAL_Y),
    ("i", "10 < ALSFRS" + LE + "20", "marginal", 2, 1, I_DEV_X, I_DEV_Y, I_VAL_X, I_VAL_Y),
    ("j", "20 < ALSFRS" + LE + "30", "marginal", 2, 2, J_DEV_X, J_DEV_Y, J_VAL_X, J_VAL_Y),
    ("k", "30 < ALSFRS", "marginal", 2, 3, K_DEV_X, K_DEV_Y, K_VAL_X, K_VAL_Y),
]

DEV_COLOR = "#1f77b4"
VAL_COLOR = "#ff7f0e"
TICKS = [0.0, 0.5, 1.0]
TICK_LABELS = ["0.0", "0.5", "1.0"]
LIMS = (-0.1, 1.1)

sns.set_style("white")
plt.rcParams["font.family"] = ["Liberation Sans", "DejaVu Sans"]

W, H = 1116, 1701
fig = plt.figure(figsize=(W / 100, H / 100), dpi=100)


def add_axes_px(left, top, width, height):
    return fig.add_axes([left / W, 1 - (top + height) / H, width / W, height / H])


COL_LEFT = [58, 330, 602, 875]
ROW_TOP = [195, 748, 1303]
SC_W, SC_H = 181, 359
TOP_H, GAP = 104, 23

for letter, score, zone, row, col, dev_x, dev_y, val_x, val_y in PANELS:
    left, top = COL_LEFT[col], ROW_TOP[row]
    ax = add_axes_px(left, top, SC_W, SC_H)
    ax_top = add_axes_px(left, top - GAP - TOP_H, SC_W, TOP_H)
    ax_right = add_axes_px(left + 195, top, 53, SC_H)

    sns.scatterplot(x=dev_x, y=dev_y, ax=ax, color=DEV_COLOR, alpha=0.5, s=58, linewidth=0)
    sns.scatterplot(x=val_x, y=val_y, ax=ax, color=VAL_COLOR, alpha=0.5, s=58, linewidth=0)

    for xs, ys, color in [(dev_x, dev_y, DEV_COLOR), (val_x, val_y, VAL_COLOR)]:
        sns.histplot(x=xs, ax=ax_top, stat="density", bins=6, binrange=(0, 1),
                     color=color, alpha=0.4, edgecolor="white", linewidth=1)
        sns.histplot(y=ys, ax=ax_right, stat="density", bins=10, binrange=(0, 1),
                     color=color, alpha=0.4, edgecolor="white", linewidth=1)
        if len(xs) > 1:
            sns.kdeplot(x=xs, ax=ax_top, color=color, linewidth=1.6)
            sns.kdeplot(y=ys, ax=ax_right, color=color, linewidth=1.6)

    ax.set_xlim(LIMS)
    ax.set_ylim(LIMS)
    ax_top.set_xlim(LIMS)
    ax_right.set_ylim(LIMS)

    for a in (ax_top, ax_right):
        a.set_xticks([])
        a.set_yticks([])
        a.set_xlabel("")
        a.set_ylabel("")
        for s in a.spines.values():
            s.set_visible(False)

    for s in ax.spines.values():
        s.set_visible(False)
    ax.set_xlabel("")
    ax.set_ylabel("")
    if col == 0:
        ax.spines["left"].set_visible(True)
        ax.set_yticks(TICKS, TICK_LABELS, fontsize=10.5)
        ax.set_ylabel("Dim n2 (UMAP)", fontsize=10)
    else:
        ax.set_yticks([])
    if row == 2:
        ax.spines["bottom"].set_visible(True)
        ax.set_xticks(TICKS, TICK_LABELS, fontsize=10.5)
        if col in (0, 3):
            ax.set_xlabel("Dim n1 (UMAP)", fontsize=10, labelpad=1.5)
    else:
        ax.set_xticks([])

    # panel title: big letter + score range, then the zone on two lines
    head = HPacker(children=[TextArea(letter, textprops=dict(fontsize=17, color="#262626")),
                             TextArea(score, textprops=dict(fontsize=11.5, color="#262626"))],
                   align="baseline", pad=0, sep=3)
    box = VPacker(children=[head,
                            TextArea(zone, textprops=dict(fontsize=11.5, color="#262626")),
                            TextArea("loss zone", textprops=dict(fontsize=11.5, color="#262626"))],
                  align="center", pad=0, sep=0)
    ax_top.add_artist(AnchoredOffsetbox(loc="lower center", child=box, pad=0, borderpad=0,
                                        frameon=False, bbox_to_anchor=(0.5, 1.04),
                                        bbox_transform=ax_top.transAxes))

handles = [Line2D([], [], ls="", marker="o", markersize=7, color=DEV_COLOR, alpha=0.5, markeredgewidth=0),
           Line2D([], [], ls="", marker="o", markersize=7, color=VAL_COLOR, alpha=0.5, markeredgewidth=0)]
fig.legend(handles, ["Development data", "Validation data"], loc="center",
           bbox_to_anchor=(569 / W, 1 - 1692 / H), ncol=2, frameon=False, fontsize=8,
           handletextpad=0.6, columnspacing=2.2, borderpad=0.2)

fig.savefig("out.png", dpi=100)
